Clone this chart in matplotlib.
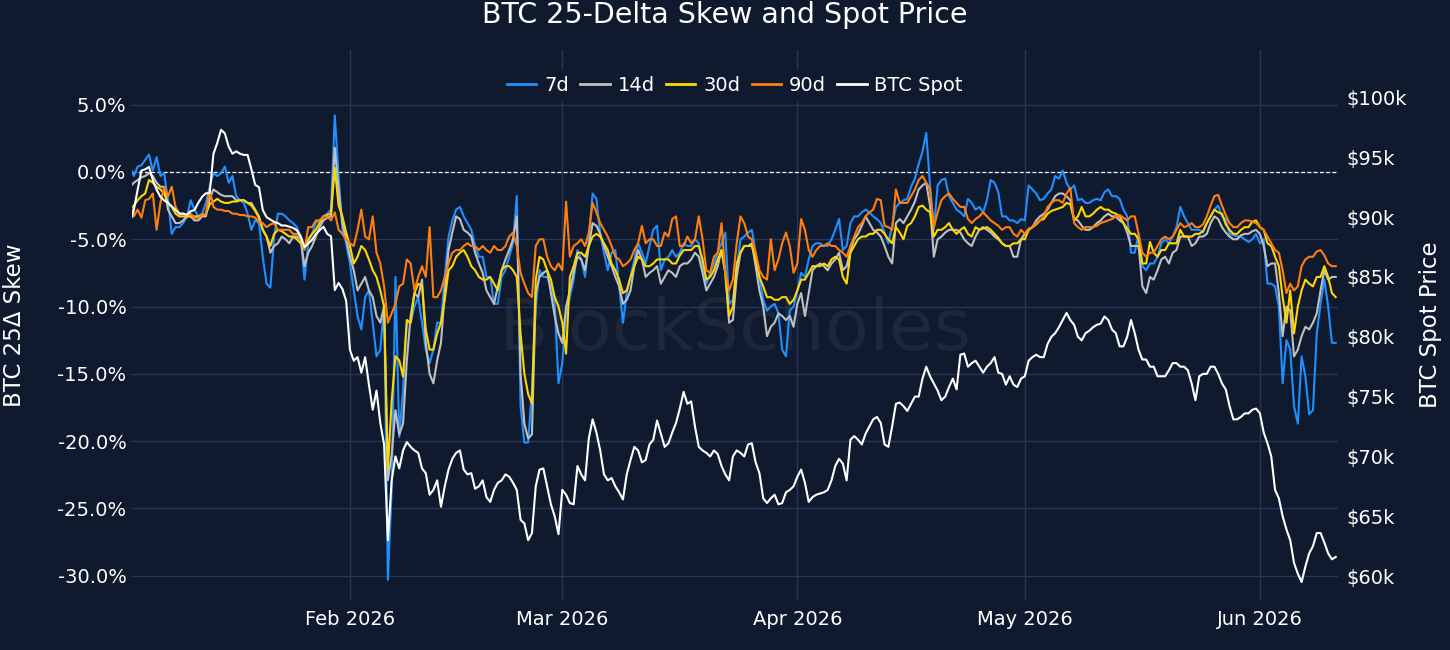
import matplotlib
matplotlib.use("Agg")
import matplotlib.pyplot as plt
import matplotlib.dates as mdates
import pandas as pd

# ---- data: values at 00:00 (am) and 12:00 (pm) of each day ----
start_date = "2026-01-03"

skew_7d_am = [0.4, 0.4, 0.9, 0.1, -0.3, -2.1, -4.1, -3.8, -2.1, -3.3, -2.3, -0.1, -0.1, -0.8, -1.8, -2.3, -4.3, -3.8, -8.3, -4.8, -3.1, -3.6, -4.1, -8.0, -4.6, -3.6, -3.1, 4.2,
              -4.3, -6.8, -10.7, -9.3, -11.2, -13.2, -30.3, -7.8, -16.2, -11.2, -9.3, -13.2, -13.2, -11.2, -4.8, -2.8, -3.3, -4.3, -6.3, -7.8, -9.8, -7.8, -6.3, -1.8, -20.1, -16.2,
              -7.3, -7.8, -9.8, -14.2, -9.3, -5.8, -7.8, -1.6, -4.6, -7.3, -5.8, -11.2, -7.8, -5.3, -6.8, -4.3, -7.3, -6.3, -6.3, -5.3, -5.5, -5.3, -8.3, -6.8, -5.3, -9.8,
              -7.3, -4.8, -4.3, -7.8, -10.3, -9.8, -13.2, -10.3, -8.8, -7.8, -5.5, -5.3, -5.5, -4.3, -5.8, -3.8, -3.3, -2.8, -3.3, -3.8, -5.3, -2.6, -2.1, -1.1, 0.6, 2.9, -4.3,
              -0.6, -1.8, -2.8, -3.3, -2.3, -2.6, -2.1, -0.8, -3.3, -3.6, -3.8, -3.6, -1.3, -2.1, -1.6, -0.3, 0.1, -1.3, -2.1, -2.3, -2.1, -2.1, -1.3, -1.8, -2.8, -6.0,
              -4.6, -7.3, -6.8, -5.3, -5.3, -4.1, -3.3, -4.3, -4.3, -3.8, -2.8, -3.3, -4.6, -4.8, -5.0, -5.0, -5.3, -8.3, -8.5, -15.7, -13.2, -18.7, -15.2, -17.7, -9.8, -10.0, -12.7]
skew_7d_pm = [-0.3, 0.5, 1.3, 1.1, -0.1, -4.6, -4.1, -3.3, -2.8, -3.1, -1.1, -0.3, 0.4, -0.3, -2.1, -3.1, -3.6, -6.3, -8.6, -3.1, -3.3, -3.8, -4.8, -5.3, -3.8, -3.3, -2.8,
              -0.3, -5.3, -8.8, -11.7, -8.8, -13.7, -9.8, -23.6, -19.7, -11.2, -10.0, -11.2, -14.2, -11.2, -7.8, -3.6, -2.6, -3.8, -5.5, -6.3, -7.8, -9.8, -7.3, -5.3, -17.4, -20.1,
              -10.0, -7.8, -8.5, -15.7, -10.5, -8.0, -6.5, -5.0, -2.0, -6.0, -6.0, -8.5, -9.0, -6.5, -6.0, -5.5, -4.0, -6.5, -5.8, -6.0, -5.5, -5.0, -7.0, -7.5, -6.0, -4.5, -9.5,
              -5.0, -4.5, -6.0, -9.5, -10.0, -10.5, -13.7, -10.0, -7.5, -6.5, -5.3, -5.5, -5.0, -3.5, -5.5, -3.3, -3.0, -3.0, -3.5, -4.5, -4.0, -2.3, -2.0, -0.5, 1.5, -1.0,
              -1.0, -0.5, -2.3, -3.0, -2.0, -2.8, -3.0, -0.6, -1.5, -3.3, -3.6, -3.5, -1.0, -1.6, -2.0, -1.3, -0.5, -0.8, -1.0, -2.0, -2.3, -2.0, -1.5, -1.8, -2.0, -3.3, -6.0,
              -7.0, -6.8, -6.3, -5.0, -4.8, -2.6, -3.8, -4.3, -4.5, -3.3, -2.5, -3.5, -4.7, -4.8, -5.2, -4.6, -5.0, -8.3, -10.0, -12.5, -17.4, -13.7, -18.0, -12.0, -8.0, -12.7]

skew_14d_am = [-1.1, -0.6, -0.3, -0.3, -1.1, -2.8, -3.8, -3.6, -3.3, -3.6, -3.3, -1.3, -1.7, -1.8, -2.1, -2.1, -2.3, -3.3, -4.8, -5.5, -4.8, -5.3, -4.8, -7.0, -5.5, -4.1, -3.4, 1.8,
               -3.8, -6.3, -8.8, -7.8, -9.3, -11.2, -22.9, -17.7, -18.7, -10.7, -9.3, -12.7, -15.7, -12.7, -5.8, -3.3, -4.3, -4.8, -6.8, -8.8, -9.8, -7.3, -5.8, -3.3, -18.7, -19.5,
               -7.8, -7.3, -10.7, -12.7, -8.8, -6.3, -7.3, -3.8, -4.6, -6.3, -7.8, -9.8, -8.8, -5.8, -7.8, -7.3, -8.3, -7.3, -7.8, -6.8, -6.5, -6.3, -8.8, -7.8, -5.8, -11.2,
               -7.8, -5.5, -5.3, -8.8, -12.2, -11.2, -10.7, -10.7, -9.8, -10.7, -7.3, -6.8, -7.3, -6.5, -7.3, -5.8, -4.6, -3.3, -4.3, -4.8, -6.3, -3.8, -3.8, -2.8, -1.3, -0.8, -6.3,
               -4.8, -4.3, -4.3, -5.0, -5.5, -4.3, -4.3, -4.8, -5.3, -5.5, -6.3, -4.6, -4.1, -3.3, -2.8, -1.8, -1.6, -2.1, -3.6, -4.3, -4.1, -3.6, -3.1, -3.3, -3.8, -5.5,
               -5.5, -9.0, -8.0, -6.5, -6.8, -5.8, -4.8, -5.5, -4.8, -4.6, -3.3, -4.1, -4.8, -5.0, -4.6, -4.4, -4.6, -7.0, -6.8, -12.2, -10.3, -13.2, -11.5, -11.2, -8.8, -8.0, -7.8]
skew_14d_pm = [-0.8, -0.4, -0.1, -0.8, -1.1, -3.3, -3.8, -3.3, -3.6, -3.3, -2.0, -1.5, -1.8, -1.8, -2.1, -2.3, -2.8, -4.3, -6.0, -5.3, -5.0, -4.8, -5.0, -6.0, -4.8, -3.6, -3.3,
               -1.3, -5.0, -7.3, -8.3, -8.8, -10.7, -10.0, -21.0, -19.5, -14.0, -9.0, -8.0, -15.0, -14.0, -9.0, -4.5, -3.5, -4.5, -6.0, -7.5, -9.3, -8.5, -6.5, -5.0, -15.0, -19.8,
               -9.0, -7.5, -9.0, -12.0, -10.0, -7.5, -6.5, -5.5, -4.0, -5.5, -7.0, -8.5, -9.5, -7.0, -6.5, -7.5, -7.0, -7.8, -7.5, -7.0, -6.8, -6.0, -7.5, -8.3, -7.0, -7.5, -11.0,
               -6.0, -5.5, -7.0, -10.0, -11.5, -10.5, -11.0, -11.5, -9.0, -9.0, -7.0, -7.0, -6.8, -6.0, -7.0, -5.0, -4.0, -3.8, -4.5, -5.5, -6.8, -3.5, -3.3, -2.2, -1.0, -2.5,
               -5.0, -4.5, -4.3, -4.5, -5.3, -4.8, -4.1, -4.5, -5.0, -5.5, -6.3, -5.0, -4.3, -3.6, -3.1, -2.3, -1.6, -1.8, -3.5, -4.0, -4.3, -3.8, -3.3, -3.3, -3.6, -4.5, -5.5,
               -8.5, -7.8, -7.3, -6.3, -6.0, -4.8, -4.8, -5.3, -4.8, -3.8, -3.5, -4.5, -5.0, -4.7, -4.6, -4.3, -5.5, -6.8, -9.0, -10.0, -13.7, -12.2, -11.7, -10.5, -7.3, -7.8]

skew_30d_am = [-2.8, -2.1, -1.6, -0.8, -1.3, -2.3, -3.1, -3.3, -3.3, -3.3, -3.1, -2.2, -2.2, -2.3, -2.2, -2.1, -2.5, -3.4, -4.8, -4.6, -4.4, -4.8, -5.0, -5.7, -4.6, -3.8, -3.2, 0.3,
               -3.3, -5.5, -6.3, -5.8, -7.3, -8.8, -22.1, -13.7, -15.2, -11.2, -8.3, -11.7, -13.2, -11.2, -7.3, -6.3, -5.8, -7.0, -7.8, -8.0, -8.3, -7.3, -7.0, -7.8, -15.0, -17.2,
               -6.3, -7.3, -9.3, -11.2, -7.8, -6.0, -6.3, -4.8, -4.8, -5.8, -7.3, -9.0, -7.8, -6.3, -7.0, -6.8, -6.5, -6.5, -6.8, -5.8, -5.8, -5.5, -8.0, -7.3, -5.8, -10.7,
               -6.8, -5.5, -5.5, -7.8, -9.3, -9.5, -9.3, -9.8, -8.8, -8.0, -7.0, -7.0, -7.0, -6.3, -7.8, -6.0, -5.0, -4.8, -4.6, -4.3, -5.0, -4.1, -5.0, -3.8, -2.6, -2.8, -4.8,
               -4.3, -3.8, -4.6, -4.1, -4.8, -4.3, -4.1, -4.6, -5.3, -5.5, -5.3, -5.0, -4.1, -3.6, -3.1, -2.8, -2.6, -2.4, -3.3, -3.3, -3.1, -2.6, -2.8, -3.1, -3.8, -4.6,
               -5.0, -6.8, -6.0, -5.8, -5.3, -5.3, -4.8, -4.8, -4.6, -3.8, -2.8, -3.1, -4.3, -4.6, -4.1, -3.7, -4.1, -5.3, -6.3, -9.3, -8.8, -10.0, -8.0, -8.5, -7.8, -7.8, -9.3]
skew_30d_pm = [-2.5, -1.8, -0.6, -1.1, -1.6, -2.6, -3.3, -3.3, -3.3, -3.2, -2.4, -2.0, -2.3, -2.2, -2.1, -2.3, -2.9, -4.3, -5.5, -4.3, -4.6, -4.8, -5.3, -5.0, -4.3, -3.3, -3.1,
               -2.5, -4.5, -6.8, -5.5, -6.5, -7.8, -10.0, -17.0, -14.0, -11.0, -9.0, -8.5, -13.2, -12.0, -9.5, -7.0, -6.0, -6.3, -7.3, -8.0, -7.8, -8.8, -7.0, -7.3, -12.0, -16.5,
               -8.0, -6.5, -8.0, -10.0, -13.5, -7.0, -6.0, -5.5, -4.6, -5.3, -6.8, -8.0, -8.8, -7.0, -6.5, -7.0, -6.5, -6.5, -6.8, -6.2, -5.8, -5.5, -6.5, -7.8, -6.5, -7.5, -10.0,
               -6.0, -5.5, -6.5, -8.5, -9.3, -9.5, -9.3, -9.5, -8.0, -7.5, -7.0, -6.8, -6.5, -6.5, -8.3, -5.5, -4.8, -4.6, -4.3, -4.6, -5.3, -4.5, -4.0, -3.3, -2.5, -3.0,
               -4.3, -4.1, -4.3, -4.3, -4.6, -4.1, -4.2, -4.3, -4.9, -5.5, -5.3, -5.0, -4.3, -3.9, -3.5, -2.9, -2.7, -2.3, -3.6, -2.6, -3.3, -2.8, -2.8, -3.0, -3.3, -4.2, -4.6,
               -6.8, -5.2, -6.3, -5.8, -5.3, -4.3, -4.8, -4.6, -4.4, -3.3, -3.0, -3.9, -4.6, -4.3, -4.1, -3.6, -4.3, -5.5, -7.0, -11.2, -12.0, -8.8, -8.3, -7.8, -7.0, -9.0]

skew_90d_am = [-2.3, -2.8, -2.1, -1.6, -2.3, -1.8, -2.6, -3.2, -3.1, -3.4, -3.1, -2.6, -2.8, -2.9, -3.1, -3.2, -3.3, -3.7, -4.1, -3.8, -4.3, -4.3, -4.6, -5.8, -4.1, -3.6, -3.3, -3.0,
               -4.6, -5.3, -4.3, -4.8, -3.3, -6.8, -11.2, -9.8, -8.3, -6.8, -7.8, -7.8, -9.3, -8.8, -6.8, -5.8, -5.5, -5.5, -5.8, -5.8, -5.5, -5.8, -4.8, -5.5, -8.3, -9.3,
               -5.0, -6.3, -7.3, -7.3, -6.3, -5.3, -5.5, -2.3, -3.8, -4.8, -6.3, -7.0, -6.5, -5.3, -5.3, -5.0, -5.5, -4.8, -3.3, -5.5, -5.3, -3.3, -7.3, -6.3, -3.8, -8.8,
               -5.3, -3.8, -5.0, -7.3, -8.0, -7.3, -5.3, -5.5, -6.8, -4.3, -6.3, -5.5, -5.3, -5.5, -6.0, -5.5, -4.1, -3.3, -2.8, -2.1, -4.1, -1.3, -2.3, -1.8, -0.6, -0.8, -4.1,
               -2.1, -1.6, -2.3, -2.6, -3.8, -3.3, -3.3, -3.8, -4.3, -4.1, -4.8, -4.6, -4.1, -3.6, -2.6, -2.1, -2.3, -1.2, -4.1, -4.1, -4.1, -3.8, -3.6, -3.3, -3.4, -3.3,
               -4.6, -6.3, -6.0, -5.0, -5.0, -4.3, -4.1, -3.8, -4.1, -3.3, -1.8, -2.5, -3.8, -4.1, -3.6, -3.7, -4.1, -4.8, -5.8, -7.3, -8.3, -8.5, -6.5, -6.3, -5.8, -6.8, -7.0]
skew_90d_pm = [-3.3, -3.4, -2.0, -4.3, -1.1, -1.1, -3.1, -3.2, -3.4, -3.2, -1.3, -2.8, -2.9, -3.1, -3.2, -3.3, -3.4, -3.8, -3.9, -4.3, -4.3, -4.6, -4.8, -4.1, -3.6, -3.3, -3.6,
               -4.3, -5.0, -5.5, -2.8, -5.0, -6.0, -8.5, -10.5, -8.5, -6.5, -8.8, -7.0, -4.1, -9.3, -7.8, -6.0, -5.8, -5.3, -5.5, -5.5, -6.0, -5.8, -5.5, -4.5, -7.5, -9.0,
               -5.5, -5.0, -7.0, -6.8, -2.2, -5.5, -5.0, -4.5, -3.0, -4.3, -5.5, -6.5, -6.8, -5.8, -4.0, -5.0, -5.5, -4.5, -3.5, -5.5, -4.8, -5.0, -5.0, -7.5, -6.0, -7.5, -8.0,
               -3.3, -4.8, -6.0, -7.8, -5.0, -6.5, -4.5, -7.5, -3.5, -5.8, -5.8, -5.5, -5.5, -5.8, -6.3, -4.8, -3.8, -3.0, -2.0, -4.0, -4.3, -2.3, -2.3, -1.3, -0.3, -1.3,
               -3.0, -1.8, -2.0, -2.6, -3.5, -3.5, -3.0, -3.6, -4.0, -4.1, -4.6, -4.3, -4.2, -3.8, -3.3, -2.3, -2.1, -1.6, -3.8, -4.3, -4.1, -4.0, -3.7, -3.5, -3.2, -3.6, -3.3,
               -6.0, -6.0, -5.5, -4.8, -4.8, -3.8, -4.0, -4.1, -3.9, -2.5, -1.7, -3.2, -4.1, -3.8, -3.6, -3.8, -4.3, -5.3, -6.0, -9.0, -8.8, -7.0, -6.3, -5.9, -6.2, -7.0]

btc_spot_am = [89.6, 92.3, 94.0, 93.1, 91.7, 91.2, 90.6, 90.3, 90.5, 91.2, 92.0, 95.3, 97.3, 95.9, 95.5, 95.2, 94.0, 92.5, 90.0, 89.6, 89.3, 89.2, 88.9, 87.5, 88.1, 88.9, 88.6, 83.9,
               84.0, 78.9, 78.3, 78.3, 73.9, 72.8, 63.0, 70.0, 70.5, 70.8, 70.3, 68.6, 67.2, 65.8, 68.9, 70.3, 68.9, 68.6, 67.5, 66.6, 67.2, 68.0, 68.3, 67.2, 64.4, 63.6,
               68.9, 67.5, 65.0, 67.2, 66.1, 69.2, 68.0, 73.1, 70.5, 68.0, 67.5, 66.4, 69.7, 70.5, 69.7, 71.4, 71.9, 71.1, 72.8, 75.4, 74.6, 70.8, 70.3, 70.5, 69.2, 68.0,
               70.5, 70.0, 71.1, 68.6, 66.1, 66.8, 66.1, 67.2, 68.3, 67.8, 66.6, 66.9, 67.2, 69.2, 69.4, 71.4, 71.4, 71.9, 73.1, 72.8, 70.8, 74.4, 74.2, 74.4, 75.0, 77.5, 76.1,
               74.7, 75.8, 75.6, 78.6, 77.8, 77.5, 77.5, 78.3, 76.9, 76.7, 75.8, 76.7, 78.3, 78.3, 79.4, 80.3, 81.4, 81.4, 80.0, 80.3, 80.8, 81.1, 81.4, 80.3, 79.2, 81.4,
               78.9, 78.1, 77.5, 76.7, 77.2, 77.8, 77.5, 76.1, 76.7, 76.9, 77.5, 76.1, 74.2, 73.1, 73.6, 73.9, 73.6, 71.1, 67.2, 65.0, 63.0, 60.2, 60.8, 62.5, 63.6, 61.9, 61.6]
btc_spot_pm = [90.6, 93.9, 94.2, 92.3, 91.4, 90.9, 90.3, 90.2, 90.6, 91.7, 92.0, 96.2, 97.0, 95.3, 95.3, 95.2, 92.7, 90.6, 89.8, 89.5, 89.3, 89.1, 88.4, 87.8, 88.6, 89.2, 88.4,
               84.5, 83.0, 78.0, 77.0, 76.0, 75.5, 71.0, 68.0, 69.0, 71.2, 70.5, 69.0, 66.8, 68.0, 67.5, 69.8, 70.5, 68.5, 67.3, 68.0, 66.2, 67.8, 68.5, 67.8, 64.7, 63.0,
               67.5, 69.0, 66.0, 63.5, 66.8, 66.0, 68.5, 71.5, 72.0, 68.5, 68.2, 67.0, 68.5, 70.8, 69.5, 71.0, 73.0, 70.8, 72.0, 74.0, 74.4, 72.5, 70.5, 70.0, 70.2, 68.5, 70.0,
               70.3, 71.0, 69.5, 66.5, 66.5, 66.0, 67.0, 67.5, 68.9, 66.2, 66.8, 67.0, 68.0, 69.8, 68.0, 71.7, 71.0, 72.5, 73.3, 71.0, 72.5, 74.5, 73.8, 75.0, 76.5, 76.7,
               75.5, 75.0, 76.5, 78.5, 77.5, 78.0, 77.0, 77.8, 77.0, 76.0, 76.0, 76.5, 78.0, 78.5, 78.3, 80.0, 80.8, 82.0, 81.0, 79.7, 80.5, 81.0, 81.7, 80.6, 79.2, 80.0, 80.3,
               78.1, 77.5, 76.7, 76.7, 77.8, 77.5, 77.2, 74.7, 76.9, 77.5, 76.9, 75.6, 73.1, 73.3, 73.6, 74.0, 72.0, 70.0, 66.5, 63.9, 61.1, 59.5, 61.9, 63.6, 62.8, 61.4]

series_names = ["7d", "14d", "30d", "90d"]
left_ticks = [-30, -25, -20, -15, -10, -5, 0, 5]
right_ticks = [60, 65, 70, 75, 80, 85, 90, 95, 100]
month_ticks = ["2026-02-01", "2026-03-01", "2026-04-01", "2026-05-01", "2026-06-01"]


def interleave(am, pm):
    out = []
    for i, v in enumerate(am):
        out.append(v)
        if i < len(pm):
            out.append(pm[i])
    return out


skew_series = [interleave(skew_7d_am, skew_7d_pm), interleave(skew_14d_am, skew_14d_pm),
               interleave(skew_30d_am, skew_30d_pm), interleave(skew_90d_am, skew_90d_pm)]
spot_series = interleave(btc_spot_am, btc_spot_pm)
dates = pd.date_range(start_date, periods=len(spot_series), freq="12h")

# ---- style ----
BG = "#101a2e"
GRID = "#26365a"
colors = ["#1e90ff", "#c0c0c0", "#ffd700", "#ff7f0e"]
plt.rcParams["font.family"] = ["DejaVu Sans"]

fig = plt.figure(figsize=(14.5, 6.5), dpi=100, facecolor=BG)
ax = fig.add_axes([132 / 1450, 50 / 650, (1338 - 132) / 1450, 550 / 650])
ax.set_facecolor(BG)
ax2 = ax.twinx()
ax2.patch.set_visible(False)

# watermark
ax.text(0.5, 0.49, "BlockScholes", transform=ax.transAxes, ha="center", va="center",
        fontsize=52, color="#ffffff", alpha=0.06, zorder=0.5)

for vals, name, c in zip(skew_series, series_names, colors):
    ax.plot(dates, vals, color=c, lw=1.5, label=name, zorder=2)
ax2.plot(dates, spot_series, color="white", lw=1.5, label="BTC Spot", zorder=3)

ax.axhline(0, color="white", lw=0.9, ls=(0, (3, 2)), zorder=1.5)

x0 = pd.Timestamp("2026-01-01") + pd.Timedelta(days=2.255)
x1 = pd.Timestamp("2026-01-01") + pd.Timedelta(days=161.3)
ax.set_xlim(x0, x1)
ax.set_ylim(-31.8, 9.06)
ax2.set_ylim(58.0, 103.97)

ax.set_yticks(left_ticks)
ax.set_yticklabels([f"{v:.1f}%" for v in left_ticks])
ax2.set_yticks(right_ticks)
ax2.set_yticklabels([f"${v}k" for v in right_ticks])
ax.set_xticks([pd.Timestamp(m) for m in month_ticks])
ax.xaxis.set_major_formatter(mdates.DateFormatter("%b %Y"))

ax.grid(True, color=GRID, lw=1)
ax.set_axisbelow(True)
for a in (ax, ax2):
    for s in a.spines.values():
        s.set_visible(False)
ax.tick_params(axis="y", length=0, pad=4, labelsize=14, labelcolor="white")
ax.tick_params(axis="x", length=0, pad=7, labelsize=14, labelcolor="white")
ax2.tick_params(axis="y", length=0, pad=6, labelsize=14, labelcolor="white")

fig.text(15 / 1450, 0.5, "BTC 25Δ Skew", rotation=90, ha="center", va="center",
         fontsize=16.5, color="white")
fig.text(1431 / 1450, 0.5, "BTC Spot Price", rotation=90, ha="center", va="center",
         fontsize=16.5, color="white")

fig.text(0.5, 1 - 15 / 650, "BTC 25-Delta Skew and Spot Price", ha="center", va="center",
         fontsize=20.5, color="white")

h1, l1 = ax.get_legend_handles_labels()
h2, l2 = ax2.get_legend_handles_labels()
leg = ax2.legend(h1 + h2, l1 + l2, loc="center", bbox_to_anchor=(0.5, 0.935), ncol=5,
                 frameon=True, facecolor=BG, edgecolor=BG, framealpha=1, fontsize=14,
                 handlelength=1.5, handletextpad=0.4, columnspacing=0.6, borderpad=0.3)
for t in leg.get_texts():
    t.set_color("white")
for line in leg.get_lines():
    line.set_linewidth(2)

fig.savefig("out.png", dpi=100, facecolor=BG)
